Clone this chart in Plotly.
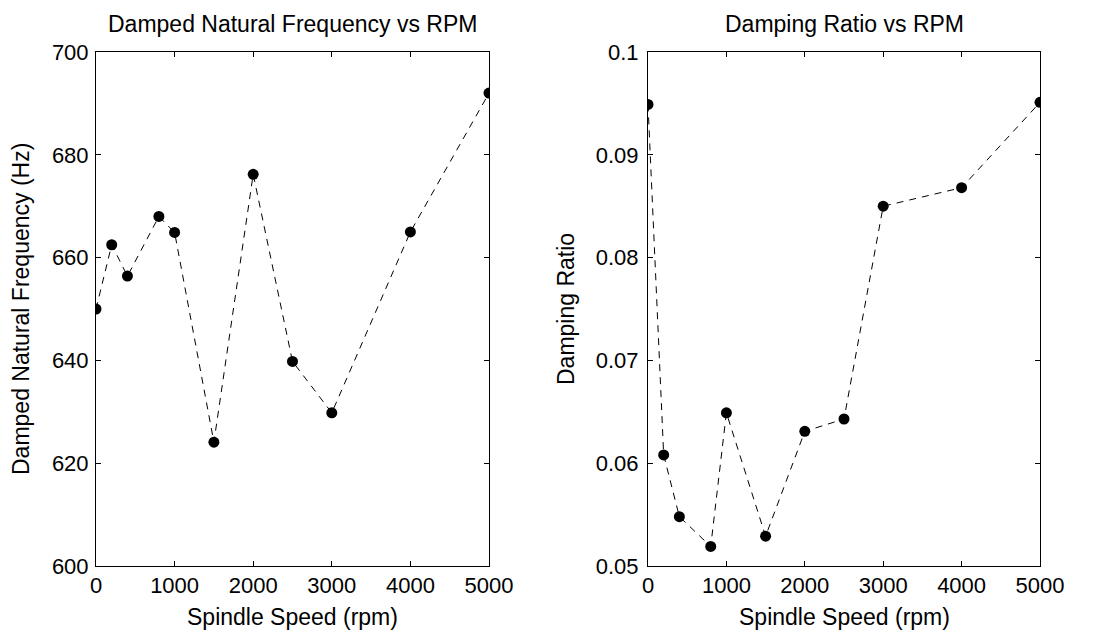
import plotly.graph_objects as go

rpm = [0, 200, 400, 800, 1000, 1500, 2000, 2500, 3000, 4000, 5000]
freq_hz = [650.0, 662.5, 656.4, 668.0, 664.9, 624.1, 676.2, 639.8, 629.8, 665.0, 692.0]
damping = [0.0949, 0.0608, 0.0548, 0.0519, 0.0649, 0.0529, 0.0631, 0.0643, 0.0850, 0.0868, 0.0951]

titles = ["Damped Natural Frequency vs RPM", "Damping Ratio vs RPM"]
xlabel = "Spindle Speed (rpm)"
ylabels = ["Damped Natural Frequency (Hz)", "Damping Ratio"]
x_ticks = [0, 1000, 2000, 3000, 4000, 5000]
y1_ticks = [600, 620, 640, 660, 680, 700]
y2_ticks = [0.05, 0.06, 0.07, 0.08, 0.09, 0.1]
y2_labels = ["0.05", "0.06", "0.07", "0.08", "0.09", "0.1"]

# page body has an 8px margin; figure is sized to fill the rest of the window
OFF = 8
W, H = 1098 - OFF, 634 - OFF
FONT = "Liberation Sans, Arial, sans-serif"

fig = go.Figure()
style = dict(mode="lines+markers",
             line=dict(color="black", width=1, dash="7px,6px"),
             marker=dict(color="black", size=11),
             showlegend=False)
fig.add_trace(go.Scatter(x=rpm, y=freq_hz, xaxis="x", yaxis="y", **style))
fig.add_trace(go.Scatter(x=rpm, y=damping, xaxis="x2", yaxis="y2", **style))

def px_x(p):
    return (p - OFF) / W

def px_y(p):
    return 1 - (p - OFF) / H

axis_common = dict(showline=True, linecolor="black", linewidth=1, mirror="ticks",
                   ticks="inside", ticklen=5, tickcolor="black", showgrid=False,
                   zeroline=False, automargin=False,
                   tickfont=dict(size=22, color="black", family=FONT))

L1, R1, L2, R2, T, B = 96, 489, 648, 1040, 52, 566

fig.update_layout(
    width=W, height=H,
    margin=dict(l=0, r=0, t=0, b=0),
    paper_bgcolor="white", plot_bgcolor="white",
    font=dict(family=FONT, color="black"),
    xaxis=dict(domain=[px_x(L1), px_x(R1)], range=[0, 5000], tickvals=x_ticks,
               anchor="y", **axis_common),
    yaxis=dict(domain=[px_y(B), px_y(T)], range=[600, 700], tickvals=y1_ticks,
               anchor="x", ticklabelstandoff=2, **axis_common),
    xaxis2=dict(domain=[px_x(L2), px_x(R2)], range=[0, 5000], tickvals=x_ticks,
                anchor="y2", **axis_common),
    yaxis2=dict(domain=[px_y(B), px_y(T)], range=[0.05, 0.1], tickvals=y2_ticks,
                ticktext=y2_labels, anchor="x2", ticklabelstandoff=4, **axis_common),
)

centers = [(L1 + R1) / 2, (L2 + R2) / 2]
for i, t in enumerate(titles):
    fig.add_annotation(text=t, x=px_x(centers[i]), y=px_y(24), xref="paper", yref="paper",
                       xanchor="center", yanchor="middle", showarrow=False,
                       font=dict(size=23, family=FONT, color="black"))
    fig.add_annotation(text=xlabel, x=px_x(centers[i]), y=px_y(617), xref="paper", yref="paper",
                       xanchor="center", yanchor="middle", showarrow=False,
                       font=dict(size=23, family=FONT, color="black"))

ylab_x = [21, 566]
for i, t in enumerate(ylabels):
    fig.add_annotation(text=t, x=px_x(ylab_x[i]), y=px_y((T + B) / 2), xref="paper", yref="paper",
                       xanchor="center", yanchor="middle", showarrow=False, textangle=-90,
                       font=dict(size=23, family=FONT, color="black"))

fig.write_html("out.html")
